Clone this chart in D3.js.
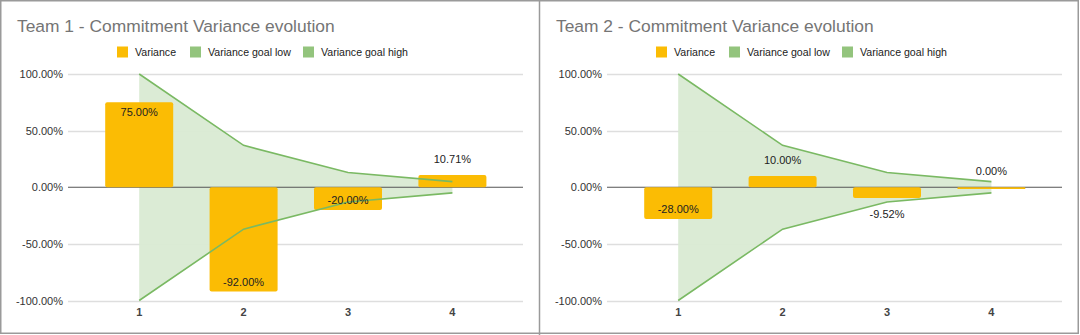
<!DOCTYPE html>
<html><head><meta charset="utf-8">
<script src="https://cdn.jsdelivr.net/npm/d3@7"></script>
<style>
html,body{margin:0;padding:0;background:#fff;}
svg{display:block;font-family:"Liberation Sans",Arial,sans-serif;}
</style></head><body>
<svg id="chart" width="1080" height="335"></svg>
<script>
const categories = ["1", "2", "3", "4"];
const team1Variance = [0.75, -0.92, -0.20, 0.1071];
const team2Variance = [-0.28, 0.10, -0.0952, 0.0];
const goalHigh = [1.0, 0.37, 0.13, 0.05];
const goalLow = [-1.0, -0.37, -0.13, -0.05];
const yTicks = [-1.0, -0.5, 0, 0.5, 1.0];
const titles = ["Team 1 - Commitment Variance evolution", "Team 2 - Commitment Variance evolution"];
const legendLabels = ["Variance", "Variance goal low", "Variance goal high"];
const teams = [team1Variance, team2Variance];

const svg = d3.select("#chart");
const barColor = "#fbbc04", areaColor = "#d9ead3", lineColor = "#7ab963", legendGreen = "#93c47d";
const fmt0 = d3.format(".2%");
const fmt = v => fmt0(v).replace("\u2212", "-");

// outer frame and divider
svg.append("rect").attr("x",0.75).attr("y",0.75).attr("width",1077.5).attr("height",332.5)
  .attr("fill","none").attr("stroke","#9a9a9a").attr("stroke-width",1.5);
svg.append("line").attr("x1",539.5).attr("x2",539.5).attr("y1",0).attr("y2",335)
  .attr("stroke","#9a9a9a").attr("stroke-width",1.5);

function panel(i){
  const ox = i*539;
  const g = svg.append("g").attr("transform",`translate(${ox},0)`);
  const data = teams[i];
  g.append("text").attr("x",17).attr("y",32).attr("font-size",17.4).attr("fill","#757575").text(titles[i]);

  // legend
  const legX = [117, 190, 303];
  const legC = [barColor, legendGreen, legendGreen];
  legendLabels.forEach((l,k)=>{
    g.append("rect").attr("x",legX[k]).attr("y",46.5).attr("width",11).attr("height",11).attr("fill",legC[k]);
    g.append("text").attr("x",legX[k]+18).attr("y",52).attr("dy","0.35em").attr("font-size",10.6).attr("fill","#222").text(l);
  });

  const y = d3.scaleLinear().domain([-1,1]).range([300.5,74]);
  const x = d3.scaleBand().domain(categories).range([87,504.6]).paddingInner(0.35).paddingOuter(0.175);
  const cx = d => x(d) + x.bandwidth()/2;

  // gridlines
  g.append("g").selectAll("line").data(yTicks.filter(t=>t!==0)).join("line")
    .attr("x1",68).attr("x2",523).attr("y1",d=>Math.round(y(d))+0.5).attr("y2",d=>Math.round(y(d))+0.5)
    .attr("stroke","#dedede").attr("stroke-width",1.5);
  // y axis labels
  const yAxis = d3.axisLeft(y).tickValues(yTicks).tickFormat(fmt).tickSize(0).tickPadding(0);
  const ya = g.append("g").attr("transform","translate(63,0)").call(yAxis);
  ya.select(".domain").remove();
  ya.selectAll("text").attr("font-size",11).attr("fill","#333").attr("font-family","Liberation Sans, Arial, sans-serif");

  // area
  const pts = categories.map((c,k)=>({c, hi:goalHigh[k], lo:goalLow[k]}));
  g.append("path").datum(pts).attr("d", d3.area().x(d=>cx(d.c)).y0(d=>y(d.lo)).y1(d=>y(d.hi)))
    .attr("fill",areaColor).attr("opacity",0.95);
  // zero line
  g.append("line").attr("x1",68).attr("x2",523).attr("y1",y(0)).attr("y2",y(0)).attr("stroke","#555").attr("stroke-width",1.2);

  // bars
  const bw = 68;
  g.append("g").selectAll("path").data(categories.map((c,k)=>({c,v:data[k]}))).join("path")
    .attr("d", d=>{
      const x0 = cx(d.c)-bw/2, y0 = y(Math.max(0,d.v)), h = Math.max(Math.abs(y(d.v)-y(0)), 1.8);
      const r = Math.min(2, h/2);
      const p = d3.path();
      p.moveTo(x0+r,y0); p.lineTo(x0+bw-r,y0); p.quadraticCurveTo(x0+bw,y0,x0+bw,y0+r);
      p.lineTo(x0+bw,y0+h-r); p.quadraticCurveTo(x0+bw,y0+h,x0+bw-r,y0+h);
      p.lineTo(x0+r,y0+h); p.quadraticCurveTo(x0,y0+h,x0,y0+h-r);
      p.lineTo(x0,y0+r); p.quadraticCurveTo(x0,y0,x0+r,y0); p.closePath();
      return p.toString();
    })
    .attr("fill",barColor);

  // lines
  [goalHigh, goalLow].forEach(arr=>{
    g.append("path").datum(categories.map((c,k)=>({c,v:arr[k]})))
      .attr("d", d3.line().x(d=>cx(d.c)).y(d=>y(d.v)))
      .attr("fill","none").attr("stroke",lineColor).attr("stroke-width",1.6);
  });

  // labels
  g.append("g").selectAll("text").data(categories.map((c,k)=>({c,v:data[k]}))).join("text")
    .attr("x",d=>cx(d.c))
    .attr("y",d=>{
      const h = Math.abs(y(d.v)-y(0));
      if (h >= 20) return d.v>=0 ? y(d.v)+9.5 : y(d.v)-9.5;
      return d.v>=0 ? y(d.v)-16 : y(d.v)+16.5;
    })
    .attr("dy","0.35em").attr("text-anchor","middle").attr("font-size",11).attr("fill","#222")
    .text(d=>fmt(d.v));

  // x labels
  g.append("g").selectAll("text").data(categories).join("text")
    .attr("x",d=>cx(d)).attr("y",312).attr("dy","0.35em").attr("text-anchor","middle")
    .attr("font-size",11).attr("font-weight","bold").attr("fill","#444").text(d=>d);
}
panel(0); panel(1);
</script>
</body></html>
